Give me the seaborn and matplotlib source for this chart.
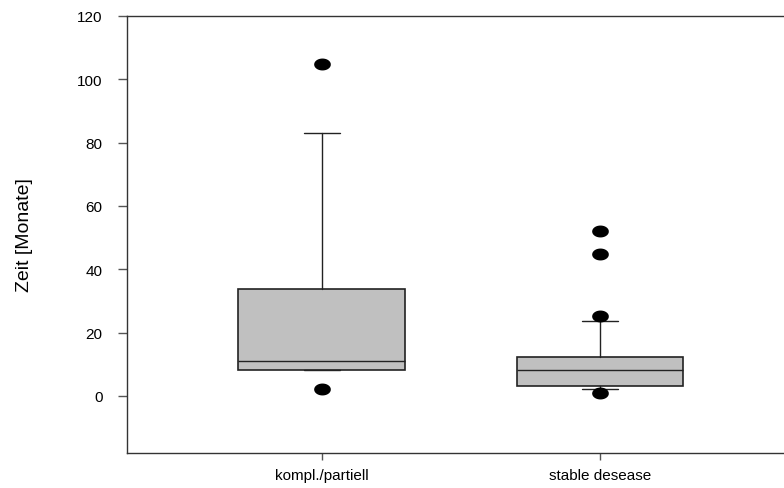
import numpy as np
import matplotlib
matplotlib.use("Agg")
import matplotlib.pyplot as plt
import seaborn as sns

# values
categories = ["kompl./partiell", "stable desease"]
q1 = [8.3, 3.1]
medians = [11.0, 8.2]
q3 = [33.7, 12.3]
whisker_low = [8.2, 2.1]
whisker_high = [83.0, 23.7]
outliers = [[105.0, 2.2], [52.1, 45.0, 25.2, 1.0]]
y_ticks = [0, 20, 40, 60, 80, 100, 120]

sns.set_theme(style="ticks")
plt.rcParams["font.family"] = ["Liberation Sans", "DejaVu Sans"]

stats = []
for i, cat in enumerate(categories):
    stats.append({
        "label": cat,
        "q1": q1[i],
        "med": medians[i],
        "q3": q3[i],
        "whislo": whisker_low[i],
        "whishi": whisker_high[i],
        "fliers": outliers[i],
    })

fig = plt.figure(figsize=(7.84, 4.89), dpi=100)
ax = fig.add_axes([127 / 784, 1 - 454 / 489, 1 - 127 / 784, (454 - 17) / 489])

# flattened dot used by the original software
theta = np.linspace(0, 2 * np.pi, 41)
dot = np.column_stack([1.45 * np.cos(theta), np.sin(theta)])

ax.bxp(
    stats,
    positions=[0, 1],
    widths=0.6,
    capwidths=0.13,
    patch_artist=True,
    boxprops=dict(facecolor="#c0c0c0", edgecolor="#222222", linewidth=1.2),
    medianprops=dict(color="#222222", linewidth=1.0),
    whiskerprops=dict(color="#222222", linewidth=1.0),
    capprops=dict(color="#222222", linewidth=1.0),
    flierprops=dict(marker=dot, markersize=11, markerfacecolor="black",
                    markeredgecolor="black", linestyle="none"),
)

ax.set_xlim(-0.701, 1.662)
ax.set_ylim(-18, 120)
ax.set_yticks(y_ticks)
ax.set_xticks([0, 1], categories)

ax.spines["right"].set_visible(False)
for side in ["left", "top", "bottom"]:
    ax.spines[side].set_color("#333333")
    ax.spines[side].set_linewidth(1.0)

ax.tick_params(axis="y", direction="out", length=6.5, width=1.0, color="#555555",
               labelsize=11, pad=11, labelcolor="black")
ax.tick_params(axis="x", direction="out", length=5, width=1.0, color="#555555",
               labelsize=11, pad=6, labelcolor="black")

ax.set_ylabel("Zeit [Monate]", fontsize=14, color="black")
ax.yaxis.set_label_coords(-0.143, 0.5)
ax.set_xlabel("")

fig.savefig("out.png", dpi=100)
